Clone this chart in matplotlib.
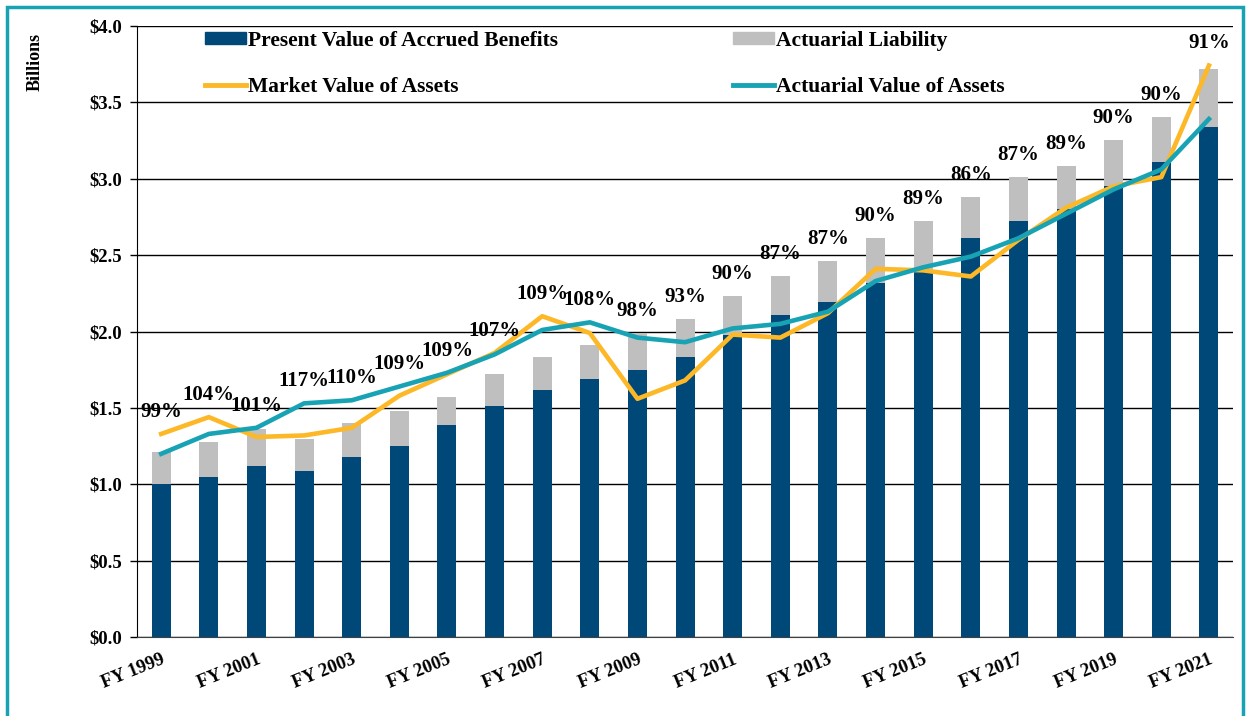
import numpy as np
import matplotlib.pyplot as plt
from matplotlib.patches import Rectangle
from matplotlib.lines import Line2D

plt.rcParams['font.family'] = ['Liberation Serif', 'DejaVu Serif']
plt.rcParams['font.weight'] = 'bold'

# --- dados (bilhões de US$) ---
years = list(range(1999, 2022))
labels = ["FY %d" % y for y in years]

pvab = [1.00, 1.05, 1.12, 1.09, 1.18, 1.25, 1.39, 1.51, 1.62, 1.69, 1.75, 1.83,
        1.98, 2.11, 2.19, 2.32, 2.40, 2.61, 2.72, 2.80, 2.95, 3.11, 3.34]
act_liab = [1.21, 1.28, 1.36, 1.30, 1.40, 1.48, 1.57, 1.72, 1.83, 1.91, 1.99, 2.08,
            2.23, 2.36, 2.46, 2.61, 2.72, 2.88, 3.01, 3.08, 3.25, 3.40, 3.72]
market = [1.33, 1.44, 1.31, 1.32, 1.37, 1.58, 1.72, 1.86, 2.10, 1.99, 1.56, 1.68,
          1.98, 1.96, 2.12, 2.41, 2.40, 2.36, 2.60, 2.81, 2.95, 3.01, 3.74]
actuarial = [1.20, 1.33, 1.37, 1.53, 1.55, 1.64, 1.73, 1.85, 2.01, 2.06, 1.96, 1.93,
             2.02, 2.05, 2.13, 2.33, 2.42, 2.49, 2.61, 2.77, 2.93, 3.06, 3.39]
funded = ["99%", "104%", "101%", "117%", "110%", "109%", "109%", "107%", "109%",
          "108%", "98%", "93%", "90%", "87%", "87%", "90%", "89%", "86%", "87%",
          "89%", "90%", "90%", "91%"]

navy = "#004877"
gray = "#BFBFBF"
gold = "#FDB827"
teal = "#17A3B4"

fig = plt.figure(figsize=(12.49, 7.16), dpi=100)
ax = fig.add_axes([0.110, 0.110, 0.877, 0.854])

x = np.arange(len(years))
w = 0.40
ax.bar(x, act_liab, width=w, color=gray, zorder=2)
ax.bar(x, pvab, width=w, color=navy, zorder=3)
ax.plot(x, market, color=gold, lw=3.3, zorder=4)
ax.plot(x, actuarial, color=teal, lw=3.3, zorder=5)

# rótulos de percentual
for i, t in enumerate(funded):
    top = max(act_liab[i], market[i], actuarial[i])
    ax.text(x[i], top + 0.145, t, ha='center', va='center', fontsize=15,
            fontweight='bold', zorder=6)

ax.set_xlim(-0.5, len(years) - 0.5)
ax.set_ylim(0, 4.0)
ax.set_yticks(np.arange(0, 4.01, 0.5))
ax.set_yticklabels(["$%.1f" % v for v in np.arange(0, 4.01, 0.5)], fontsize=13.5,
                   fontweight='bold')
ax.yaxis.grid(True, color='black', lw=1.0, zorder=1)
ax.set_axisbelow(True)
ax.tick_params(axis='y', length=5, width=1, pad=6)

ax.set_xticks(x[::2])
ax.set_xticklabels(labels[::2], rotation=22, ha='right', rotation_mode='anchor',
                   fontsize=13.5, fontweight='bold')
ax.tick_params(axis='x', length=0, pad=10)

for s in ['top', 'right']:
    ax.spines[s].set_visible(False)
ax.spines['left'].set_color('black')
ax.spines['bottom'].set_color('#404040')

fig.text(35 / 1249, 1 - 62 / 716, "Billions", rotation=90, ha='center',
         va='center', fontsize=13, fontweight='bold')

# legenda em duas colunas
h1 = [Rectangle((0, 0), 1, 1, color=navy), Line2D([], [], color=gold, lw=3.5)]
h2 = [Rectangle((0, 0), 1, 1, color=gray), Line2D([], [], color=teal, lw=3.5)]
kw = dict(loc='upper left', frameon=False, handlelength=1.9,
          handleheight=0.5, handletextpad=0.1, labelspacing=1.2,
          borderpad=0, borderaxespad=0, prop={'weight': 'bold', 'size': 15.5})
leg1 = ax.legend(h1, ["Present Value of Accrued Benefits", "Market Value of Assets"],
                 bbox_to_anchor=(205 / 1249, 1 - 31 / 716),
                 bbox_transform=fig.transFigure, **kw)
ax.add_artist(leg1)
ax.legend(h2, ["Actuarial Liability", "Actuarial Value of Assets"],
          bbox_to_anchor=(733 / 1249, 1 - 31 / 716),
          bbox_transform=fig.transFigure, **kw)

# moldura
fig.patches.append(Rectangle((7 / 1249, -0.05), 1236 / 1249, 1 - 7 / 716 + 0.05,
                             transform=fig.transFigure, fill=False,
                             edgecolor=teal, lw=2.5))

fig.savefig("out.png", dpi=100)
